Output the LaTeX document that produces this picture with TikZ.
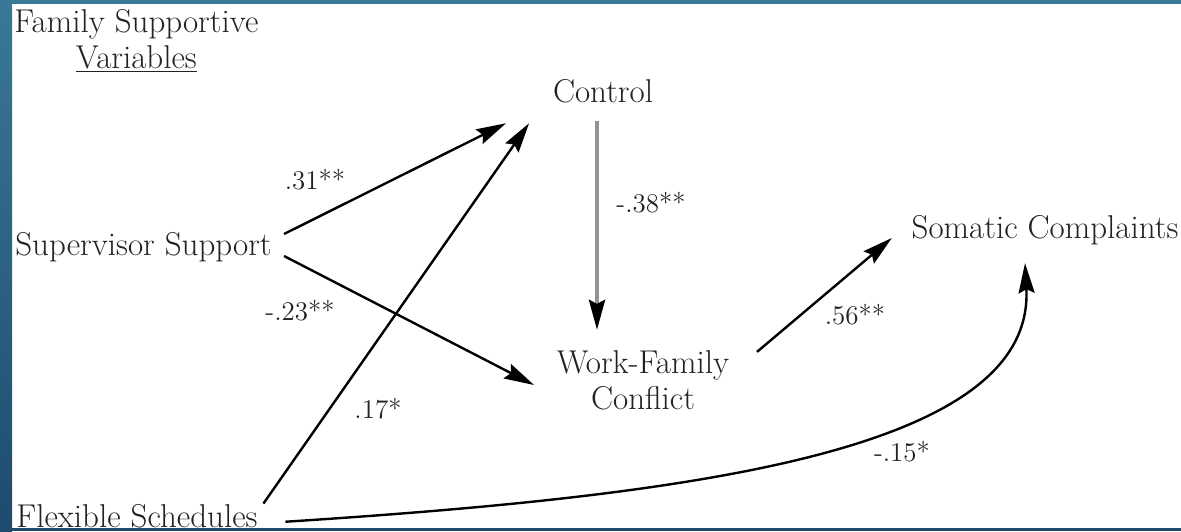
\documentclass[tikz,border=0pt]{standalone}
\usetikzlibrary{arrows.meta}
\definecolor{frameTop}{HTML}{3A7898}
\definecolor{frameBot}{HTML}{1E4B6E}
\definecolor{ink}{HTML}{222222}
\begin{document}
\begin{tikzpicture}[x=0.5pt,y=-0.5pt,
	var/.style={inner sep=0pt, text=ink, font=\fontsize{16.5}{18}\selectfont},
	lbl/.style={inner sep=0pt, text=ink, font=\fontsize{13.5}{16}\selectfont},
	arr/.style={line width=1.2pt, -{Stealth[length=15pt,width=8pt,inset=2pt]}},
	garr/.style={line width=2pt, draw=gray!85, -{Stealth[length=15pt,width=8pt,inset=2pt,black]}}]
	\useasboundingbox (0,0) rectangle (1181,531);
	\fill[white] (0,0) rectangle (1181,531);

	% variables
	\node[var, align=center, anchor=north west] (fam) at (14,9) {Family Supportive\\\underline{Variables}};
	\node[var] (ctrl) at (603,91) {Control};
	\node[var] (sup) at (143.5,247) {Supervisor Support};
	\node[var, align=center] (wfc) at (643,380) {Work-Family\\Conflict};
	\node[var] (som) at (1045,230) {Somatic Complaints};
	\node[var, anchor=base west] (flex) at (16,527) {Flexible Schedules};

	% paths
	\draw[arr] ([xshift=6pt,yshift=6.5pt]sup.east) -- ([xshift=-23.25pt,yshift=-10pt]ctrl.south west);
	\draw[arr] ([xshift=6pt,yshift=-4.5pt]sup.east) -- ([xshift=-11.25pt,yshift=-2.5pt]wfc.west);
	\draw[arr] ([xshift=2.75pt]flex.north east) -- ([xshift=-11.75pt,yshift=-10pt]ctrl.south west);
	\draw[garr] ([xshift=-3pt,yshift=-9pt]ctrl.south) -- ([xshift=-23pt,yshift=10pt]wfc.north);
	\draw[arr] ([xshift=13.75pt,yshift=-1pt]wfc.north east) -- ([xshift=-9.75pt,yshift=-4pt]som.west);
	\draw[arr] ([xshift=13.75pt,yshift=-3pt]flex.east) .. controls (700,495) and (1035,450) .. ([xshift=-10pt,yshift=-9pt]som.south);

	% coefficients
	\node[lbl] (c31) at (315,180) {.31**};
	\node[lbl] (c38) at (651,203) {-.38**};
	\node[lbl] (c23) at (300,311) {-.23**};
	\node[lbl] (c17) at (378,409) {.17*};
	\node[lbl] (c56) at (855,315) {.56**};
	\node[lbl] (c15) at (902,452) {-.15*};

	% frame
	\shade[top color=frameTop, bottom color=frameBot] (0,0) rectangle (12,531);
	\fill[frameTop] (12,0) rectangle (1181,4);
	\fill[frameBot] (12,528) rectangle (1181,531);
\end{tikzpicture}
\end{document}
